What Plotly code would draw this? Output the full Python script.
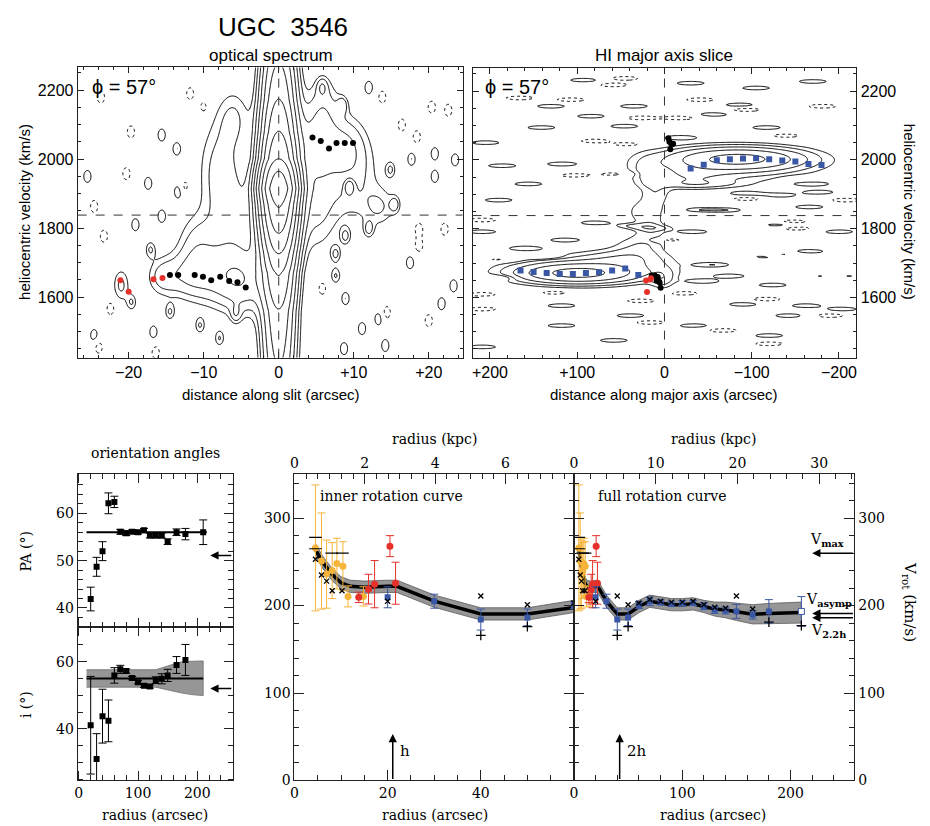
import numpy as np
import plotly.graph_objects as go

W, H = 930, 826
OFFX, OFFY = 8, 0  # page offset of the plot inside the html body
SANS = "Liberation Sans"
SERIF = "DejaVu Serif"

# ---------------------------------------------------------------- data
v_sys = 1838
phi_label = "ϕ = 57°"

# optical long-slit spectrum: continuum peak along velocity
opt_core_v = [1420, 1560, 1670, 1728, 1786, 1870, 1915, 1960, 2000, 2079, 2171, 2270]
opt_core_p = [7, 10, 17, 27, 43, 72, 100, 72, 43, 27, 17, 11]
opt_core_sigma = 1.4
# optical line-emission components
opt_em_x = [-4.5, -8, -12, -15.5, -21, -6, -8, -6, -11, 5, 9, 6, 10, 13.5, 5]
opt_em_v = [1640, 1660, 1665, 1660, 1635, 1800, 1980, 2120, 1760, 2050, 2040, 2160, 1950, 1860, 1870]
opt_em_a = [2.5, 2.2, 2.0, 1.8, 1.8, 1.8, 1.6, 1.5, 1.5, 2.5, 1.8, 1.6, 1.6, 1.4, 1.8]
opt_em_sx = [2.0, 2.5, 2.0, 1.5, 0.8, 2.5, 2.0, 1.5, 1.8, 2.0, 1.8, 1.5, 2.5, 1.5, 2.0]
opt_em_sv = [60, 60, 50, 40, 35, 120, 100, 60, 60, 70, 60, 60, 90, 40, 100]
# small positive / negative noise features in the optical spectrum
opt_pos_x = [-15.6, -13.6, -17.4, -13.4, -25.5, 8.5, 12, 17.7, 20.8, 20.8, 14.9, 23.5, 5.8, -19.1, -17.1,
             -15.6, -24.6, -16.7, -14.5, -10.5, -7.9, -5.7, 7.6, 8.9, 11.1, 14.2, 21.7, 23.3, 17.5, 8.9,
             15.5, 7.6, 12, 8.7, 13.3, -19.6]
opt_pos_v = [2070, 2030, 1930, 1906, 1950, 2157, 2208, 2000, 2016, 1950, 1970, 1998, 2210, 1810, 1739,
             1835, 1489, 1499, 1557, 1518, 1481, 1552, 1662, 1596, 1509, 1460, 1581, 1633, 1700, 1777,
             1869, 1725, 1797, 1451, 1537, 1585]
opt_neg_x = [-11.8, -10, -19.7, -20.3, 13.8, 16.4, 18.4, 20.4, 22.6, -23.7, -12.5, 9.4, -24.6, -23.3,
             -22.4, -24, -16.4, 5.8, 14.4, 20, 22.1, 18.7, 18.7]
opt_neg_v = [2190, 2151, 2079, 1958, 2180, 2099, 2065, 2151, 2142, 2180, 1921, 1921, 1863, 1777,
             1567, 1455, 1440, 1625, 1556, 1532, 1797, 1797, 1750]
# optical rotation-curve measurements
opt_black_x = [-14.5, -13.4, -11.2, -10.1, -9.0, -7.8, -6.6, -5.5, -4.4, 4.5, 5.6, 6.7, 7.7, 8.8, 9.9]
opt_black_v = [1664, 1664, 1664, 1659, 1649, 1659, 1647, 1643, 1628, 2063, 2053, 2031, 2047, 2047, 2047]
opt_red_x = [-21.1, -20.0, -16.7, -15.5]
opt_red_v = [1649, 1616, 1652, 1656]

# HI major-axis slice: emission components
hi_em_x = [-85, -70, 100, 85, -30, 20, 10, 25, 15, 30, 45, 2, -40]
hi_em_v = [2003, 1985, 1670, 1685, 1950, 1965, 1900, 1850, 1800, 1750, 1712, 1655, 1930]
hi_em_a = [11, 2.4, 11, 2.4, 2.0, 1.4, 1.4, 1.3, 1.3, 1.5, 2.0, 2.0, 1.5]
hi_em_sx = [45, 70, 42, 65, 28, 12, 12, 15, 12, 20, 30, 9, 35]
hi_em_sv = [20, 35, 18, 30, 22, 30, 30, 25, 30, 25, 18, 20, 8]
hi_pos_x = [92, 130, 141, 46, 35, 84, -18, -30, -56, -86, -105, -170, -196, -170, -166, -132, -177, -117,
            205, 186, 190, 156, 118, 12, -41, -71, -94, 209, 114, 80, 35, -33, -132, -200, -56, -117,
            -166, -204, -75, -124, -45, 118, 39, -90, -162, -204, -143, -33, 118, -120, 58, 209, 160]
hi_pos_v = [2232, 2156, 2094, 2098, 2156, 2127, 2065, 2223, 2132, 2160, 2209, 2228, 2045, 1930, 1863,
            1897, 1906, 2094, 2050, 1983, 1883, 1930, 1988, 1801, 1855, 1854, 1902, 1791, 1767, 1817,
            1808, 1791, 1811, 1791, 1695, 1719, 1734, 1662, 1662, 1636, 1647, 1576, 1547, 1580, 1576,
            1566, 1547, 1518, 1518, 1489, 1475, 1456, 1743]
hi_neg_x = [166, 107, 80, 42, 27, -18, 46, -94, -139, -181, -204, -162, -94, 58, 103, -208, 209, 58,
            -41, -147, 190, 141, 126, -3, -132, -151, -185, -22, 27, -117, -189, 16, -67, -120, 209,
            209, 194]
hi_neg_v = [2180, 2175, 2055, 2045, 2122, 2122, 2237, 2146, 2070, 2156, 2045, 1945, 1887, 1959, 1955,
            1883, 1825, 2218, 2175, 1820, 1710, 1719, 1614, 1767, 1724, 1801, 1662, 1612, 1590,
            1595, 1547, 1527, 1504, 1465, 1566, 1609, 1657]
hi_blue_x = [-30, -45, -60, -75, -90, -105, -120, -135, -150, -165, -180,
             165, 150, 135, 120, 105, 90, 75, 60, 45, 30]
hi_blue_v = [1975, 1986, 1999, 2002, 2004, 2005, 2002, 1998, 1995, 1988, 1985,
             1678, 1674, 1671, 1668, 1668, 1671, 1673, 1678, 1684, 1665]

# orientation angles
pa_r = [20, 30, 40, 50, 60, 70, 80, 90, 100, 110, 120, 130, 140, 150, 165, 180, 210]
pa_val = [41.9, 48.7, 52.0, 62.1, 62.4, 56.1, 55.8, 56.1, 56.0, 56.4, 55.3, 55.3, 55.3, 54.0, 56.0, 55.6, 56.0]
pa_err = [2.5, 2.0, 2.0, 2.2, 1.2, 0.5, 0.5, 0.4, 0.4, 0.4, 0.5, 0.5, 0.5, 0.6, 0.7, 1.2, 2.6]
pa_fit = 56.0
pa_photo = 51.1
incl_r = [20, 30, 40, 50, 60, 70, 80, 90, 100, 110, 120, 130, 140, 150, 165, 180]
incl_val = [41.1, 31.1, 43.8, 42.4, 55.9, 57.7, 57.2, 55.1, 53.9, 52.8, 52.6, 54.5, 54.9, 55.9, 59.0, 60.5]
incl_err = [14.5, 7.5, 8.0, 6.2, 2.3, 1.2, 0.6, 0.5, 0.5, 0.5, 0.5, 1.0, 1.5, 1.8, 2.5, 4.6]
incl_fit = 55.0
incl_photo = 52.0
fit_r = [13, 216]
incl_band_r = [13, 130, 150, 170, 190, 210]
incl_band_hi = [57.6, 57.6, 58.7, 59.8, 60.1, 60.2]
incl_band_lo = [52.4, 52.4, 51.7, 50.8, 50.2, 49.9]

# rotation curve
arcsec_per_kpc = 7.55
h_scale = 21.1
v_max, v_asymp, v_22h = 260, 191, 186
model_r = [4.5, 6, 8, 10, 12, 15, 20, 22, 30, 40, 50, 60, 70, 80, 90, 100, 110, 120, 130, 140, 150, 165, 180, 210]
model_v = [264, 250, 236, 226, 222, 221, 222, 222, 205, 190.5, 190.5, 199, 205, 203, 201, 201, 202, 199, 196,
           195, 193, 190, 191, 192]
model_e = [7, 7, 7, 7, 7, 7, 7, 7, 7, 7, 7, 7, 7, 7, 7, 7, 7, 7, 8, 9, 10, 11, 11.5, 12]
orange_r = [4.5, 5.8, 6.9, 8.1, 9.1, 10.4, 11.5, 14.8]
orange_v = [266, 251, 236, 240, 248, 245, 210.5, 210.5]
orange_e = [72, 55, 39, 32, 29, 28, 12, 11]
red_r = [13.8, 15.9, 17.2, 20.5, 21.7]
red_v = [209.4, 218.8, 224.5, 268, 225.6]
red_e = [6, 17, 27, 12, 24]
blue_r = [20, 30, 40, 50, 60, 70, 80, 90, 100, 110, 120, 130, 140, 150, 165, 180, 210]
blue_v = [209.5, 205, 184, 186.5, 200.7, 204.9, 203.7, 201.9, 202.7, 203, 199.3, 195.1, 194.4, 193.3, 189.6,
          193.3, 193.3]
blue_e = [12, 8, 12, 9.5, 4, 5, 3, 3, 3, 3, 4, 4, 4, 8, 5, 13.5, 17]
xmark_r = [4.5, 5.8, 6.9, 8.1, 10.2, 20, 40, 50, 60, 70, 80, 90, 100, 110, 120, 130, 140, 150, 165]
xmark_v = [253, 235, 228, 217, 217, 205, 211, 201, 203, 207, 205, 204, 204, 205, 201, 198, 197, 211, 196]
plus_r = [40, 50, 180, 210]
plus_v = [166, 176, 181, 177]
dash_r = [4.5, 4.5, 8.0, 10.3]
dash_v = [278, 265, 260, 260]

# ---------------------------------------------------------------- images
ox = np.arange(-27.5, 25.0, 0.2)
ov = np.arange(1416.0, 2276.0, 5.0)
OX, OV = np.meshgrid(ox, ov)
z_opt = np.interp(OV, opt_core_v, opt_core_p) * np.exp(-OX ** 2 / (2 * opt_core_sigma ** 2))
for x0, v0, a, sx, sv in zip(opt_em_x, opt_em_v, opt_em_a, opt_em_sx, opt_em_sv):
    z_opt += a * np.exp(-0.5 * ((OX - x0) / sx) ** 2 - 0.5 * ((OV - v0) / sv) ** 2)
for x0, v0 in zip(opt_pos_x, opt_pos_v):
    z_opt += 1.6 * np.exp(-0.5 * ((OX - x0) / 0.5) ** 2 - 0.5 * ((OV - v0) / 18) ** 2)
for x0, v0 in zip(opt_neg_x, opt_neg_v):
    z_opt -= 1.6 * np.exp(-0.5 * ((OX - x0) / 0.5) ** 2 - 0.5 * ((OV - v0) / 18) ** 2)

hx = np.arange(-224.0, 226.0, 2.0)
hv = np.arange(1416.0, 2276.0, 3.0)
HX, HV = np.meshgrid(hx, hv)
z_hi = np.zeros_like(HX)
for x0, v0, a, sx, sv in zip(hi_em_x, hi_em_v, hi_em_a, hi_em_sx, hi_em_sv):
    z_hi += a * np.exp(-0.5 * ((HX - x0) / sx) ** 2 - 0.5 * ((HV - v0) / sv) ** 2)
for x0, v0 in zip(hi_pos_x, hi_pos_v):
    z_hi += 1.6 * np.exp(-0.5 * ((HX - x0) / 16) ** 2 - 0.5 * ((HV - v0) / 5.5) ** 2)
for x0, v0 in zip(hi_neg_x, hi_neg_v):
    z_hi -= 1.6 * np.exp(-0.5 * ((HX - x0) / 16) ** 2 - 0.5 * ((HV - v0) / 5.5) ** 2)


def logz(z, base):
    return np.log(np.clip(z, 1e-3, None)) / np.log(base)


fig = go.Figure()


def contour(x, y, z, xa, ya, nlev, dash):
    fig.add_trace(go.Contour(x=x, y=y, z=z, xaxis=xa, yaxis=ya, showscale=False, hoverinfo="skip",
                             contours=dict(start=0, end=nlev, size=1, coloring="none"),
                             line=dict(color="black", width=1, dash=dash, smoothing=0.6)))


contour(ox, ov, logz(z_opt, 1.6), "x", "y", 9, "solid")
contour(ox, ov, logz(-z_opt, 1.6), "x", "y", 0.5, "dot")
contour(hx, hv, logz(z_hi, 1.8), "x2", "y2", 4, "solid")
contour(hx, hv, logz(-z_hi, 1.8), "x2", "y2", 0.5, "dot")

RED = "#E5312A"
ORANGE = "#F6B53A"
BLUE = "#3A57A6"


def pts(x, y, xa, ya, color, symbol="circle", size=6, err=None, lw=0, lc=None):
    kw = {}
    if err is not None:
        kw["error_y"] = dict(type="data", array=err, color=color, thickness=1, width=4)
    fig.add_trace(go.Scatter(x=x, y=y, xaxis=xa, yaxis=ya, mode="markers", hoverinfo="skip",
                             marker=dict(color=color, symbol=symbol, size=size,
                                         line=dict(width=lw, color=lc or color)), **kw))


pts(opt_black_x, opt_black_v, "x", "y", "black")
pts(opt_red_x, opt_red_v, "x", "y", RED)
pts(hi_blue_x, hi_blue_v, "x2", "y2", BLUE, "square", 6)
pts([-x for x in opt_black_x], opt_black_v, "x2", "y2", "black")
pts([-x for x in opt_red_x], opt_red_v, "x2", "y2", RED)

# orientation angles
fig.add_trace(go.Scatter(x=fit_r, y=[pa_fit, pa_fit], xaxis="x3", yaxis="y3", mode="lines",
                         line=dict(color="black", width=2), hoverinfo="skip"))
pts(pa_r, pa_val, "x3", "y3", "black", "square", 6, pa_err)
fig.add_trace(go.Scatter(x=incl_band_r + incl_band_r[::-1], y=incl_band_hi + incl_band_lo[::-1],
                         xaxis="x4", yaxis="y4", mode="lines", fill="toself", fillcolor="rgb(150,150,150)",
                         line=dict(color="rgb(110,110,110)", width=0.8), hoverinfo="skip"))
fig.add_trace(go.Scatter(x=fit_r[:1] + [210], y=[incl_fit, incl_fit], xaxis="x4", yaxis="y4", mode="lines",
                         line=dict(color="black", width=2), hoverinfo="skip"))
pts(incl_r, incl_val, "x4", "y4", "black", "square", 6, incl_err)

# rotation curves
mlo = [v - e for v, e in zip(model_v, model_e)]
mhi = [v + e for v, e in zip(model_v, model_e)]
for xa, ya in (("x5", "y5"), ("x6", "y6")):
    fig.add_trace(go.Scatter(x=model_r + model_r[::-1], y=mhi + mlo[::-1], xaxis=xa, yaxis=ya, mode="lines",
                             fill="toself", fillcolor="rgb(150,150,150)",
                             line=dict(color="rgb(90,90,90)", width=0.8), hoverinfo="skip"))
    fig.add_trace(go.Scatter(x=model_r, y=model_v, xaxis=xa, yaxis=ya, mode="lines",
                             line=dict(color="black", width=3.5), hoverinfo="skip"))
    pts(orange_r, orange_v, xa, ya, ORANGE, "circle", 7, orange_e)
    pts(red_r, red_v, xa, ya, RED, "circle", 7, red_e)
    pts(blue_r[:-1], blue_v[:-1], xa, ya, BLUE, "square", 6, blue_e[:-1])
    fig.add_trace(go.Scatter(x=blue_r[-1:], y=blue_v[-1:], xaxis=xa, yaxis=ya, mode="markers",
                             marker=dict(size=6, color="white", symbol="square", line=dict(width=1, color=BLUE)),
                             hoverinfo="skip",
                             error_y=dict(type="data", array=blue_e[-1:], color=BLUE, thickness=1, width=4)))
    pts(xmark_r, xmark_v, xa, ya, "black", "x-thin", 5, None, 1.3, "black")
    pts(plus_r, plus_v, xa, ya, "black", "cross-thin", 7, None, 1.3, "black")
    pts(dash_r, dash_v, xa, ya, "black", "line-ew", 9, None, 1.2, "black")

# invisible traces anchoring the kpc axes
fig.add_trace(go.Scatter(x=[0], y=[0], xaxis="x7", yaxis="y5", mode="markers", marker=dict(opacity=0),
                         hoverinfo="skip"))
fig.add_trace(go.Scatter(x=[0], y=[0], xaxis="x8", yaxis="y6", mode="markers", marker=dict(opacity=0),
                         hoverinfo="skip"))

# ---------------------------------------------------------------- layout
LC = "#222"


def PX(px):
    return (px - OFFX) / W


def PY(py):
    return 1 - (py - OFFY) / H


def dx(a, b):
    return [PX(a), PX(b)]


def dy(top, bottom):
    return [PY(bottom), PY(top)]


def ax(fam, size, tl, mdt, mtl, **kw):
    d = dict(showline=True, linecolor=LC, linewidth=1, mirror="ticks", ticks="inside", ticklen=tl,
             tickcolor=LC, tickwidth=1, showgrid=False, zeroline=False,
             tickfont=dict(family=fam, size=size, color="black"),
             minor=dict(dtick=mdt, ticks="inside", ticklen=mtl, tickcolor=LC, tickwidth=1, showgrid=False))
    d.update(kw)
    return d


MINUS = "\u2212"
layout = dict(
    width=W, height=H, margin=dict(l=0, r=0, t=0, b=0), showlegend=False,
    paper_bgcolor="white", plot_bgcolor="rgba(0,0,0,0)",
    xaxis=ax(SANS, 16, 6, 2, 3, domain=dx(74, 461), anchor="y", range=[-26.8, 24.5],
             tickvals=[-20, -10, 0, 10, 20], ticktext=[MINUS + "20", MINUS + "10", "0", "+10", "+20"]),
    yaxis=ax(SANS, 16, 6, 50, 3, domain=dy(60, 353), anchor="x", range=[1425, 2266],
             tickvals=[1600, 1800, 2000, 2200]),
    xaxis2=ax(SANS, 16, 6, 20, 3, domain=dx(471, 857), anchor="y2", range=[220, -220],
              tickvals=[200, 100, 0, -100, -200], ticktext=["+200", "+100", "0", MINUS + "100", MINUS + "200"]),
    yaxis2=ax(SANS, 16, 6, 50, 3, domain=dy(61, 353), anchor="x2", range=[1425, 2266], side="right",
              tickvals=[1600, 1800, 2000, 2200]),
    xaxis3=ax(SERIF, 14, 9, 20, 5, domain=dx(74, 230), anchor="y3", range=[-2, 260], dtick=100,
              showticklabels=False),
    yaxis3=ax(SERIF, 14, 9, 2, 5, domain=dy(471, 625), anchor="x3", range=[36, 68.2], dtick=10),
    xaxis4=ax(SERIF, 14, 9, 20, 5, domain=dx(74, 230), anchor="y4", range=[-2, 260], dtick=100),
    yaxis4=ax(SERIF, 14, 9, 5, 5, domain=dy(625, 780), anchor="x4", range=[24.7, 70.3], dtick=20, tick0=0),
    xaxis5=ax(SERIF, 14, 10, 5, 5, domain=dx(292, 573), anchor="y5", range=[0, 60], tickvals=[0, 20, 40],
              mirror=True),
    yaxis5=ax(SERIF, 14, 10, 20, 5, domain=dy(471, 780), anchor="x5", range=[0, 350], dtick=100),
    xaxis6=ax(SERIF, 14, 10, 20, 5, domain=dx(573, 855), anchor="y6", range=[0, 259], dtick=100, mirror=True),
    yaxis6=ax(SERIF, 14, 10, 20, 5, domain=dy(471, 780), anchor="x6", range=[0, 350], dtick=100, side="right"),
    xaxis7=ax(SERIF, 14, 10, 1 / 3, 5, overlaying="x5", anchor="y5", side="top",
              range=[0, 60 / arcsec_per_kpc], tickvals=[0, 2, 4, 6], mirror=False),
    xaxis8=ax(SERIF, 14, 10, 2, 5, overlaying="x6", anchor="y6", side="top",
              range=[0, 259 / arcsec_per_kpc], dtick=10, mirror=False),
)
fig.update_layout(**layout)

ann = []


def A(text, px, py, size, fam, angle=0, xanchor="center", yanchor="middle"):
    ann.append(dict(text=text, x=PX(px), y=PY(py), xref="paper", yref="paper", showarrow=False,
                    font=dict(size=size, family=fam, color="black"), textangle=angle,
                    xanchor=xanchor, yanchor=yanchor))


def D(text, x, y, xr, yr, size, xanchor="left"):
    ann.append(dict(text=text, x=x, y=y, xref=xr, yref=yr, showarrow=False, xanchor=xanchor,
                    font=dict(size=size, family=SERIF, color="black")))


def arrow(xr, yr, xh, yh, xt, yt):
    ann.append(dict(text="", x=xh, y=yh, ax=xt, ay=yt, xref=xr, yref=yr, axref=xr, ayref=yr, showarrow=True,
                    arrowhead=2, arrowsize=1.1, arrowwidth=1.5, arrowcolor="black"))


A("UGC  3546", 280, 19, 26, SANS)
A("optical spectrum", 268, 48, 17, SANS)
A("HI major axis slice", 664, 48, 17, SANS)
A(phi_label, 86, 80, 20, SANS, xanchor="left")
A(phi_label, 482, 80, 20, SANS, xanchor="left")
A("heliocentric velocity (km/s)", 20, 206, 15, SANS, angle=-90)
A("heliocentric velocity (km/s)", 911, 206, 15, SANS, angle=90)
A("distance along slit (arcsec)", 268, 390, 15, SANS)
A("distance along major axis (arcsec)", 664, 390, 15, SANS)
A("orientation angles", 152, 449, 14, SERIF)
A("PA (°)", 22, 548, 14, SERIF, angle=-90)
A("i (°)", 22, 703, 14, SERIF, angle=-90)
for cx in (152, 433, 713):
    A("radius (arcsec)", cx, 815, 14, SERIF)
for cx in (433, 713):
    A("radius (kpc)", cx, 435, 14, SERIF)
A("inner rotation curve", 316, 493, 14, SERIF, xanchor="left")
A("full rotation curve", 595, 493, 14, SERIF, xanchor="left")
A("V<sub>rot</sub> (km/s)", 911, 600, 15, SERIF, angle=90)

arrow("x3", "y3", 222, pa_photo, 260, pa_photo)
arrow("x4", "y4", 222, incl_photo, 260, incl_photo)
arrow("x5", "y5", h_scale, 53, h_scale, 0)
arrow("x6", "y6", 2 * h_scale, 53, 2 * h_scale, 0)
D("h", h_scale + 1.2, 34, "x5", "y5", 15)
D("2h", 2 * h_scale + 5, 34, "x6", "y6", 15)
for v in (v_max, v_asymp, v_22h):
    arrow("x6", "y6", 220, v, 259, v)
D("V<sub><b>max</b></sub>", 216, v_max + 15, "x6", "y6", 14)
D("V<sub><b>asymp</b></sub>", 212, v_asymp + 15, "x6", "y6", 14)
D("V<sub><b>2.2h</b></sub>", 217, v_22h - 15, "x6", "y6", 14)

shapes = []
for xr, yr in (("x", "y"), ("x2", "y2")):
    shapes.append(dict(type="line", xref=xr + " domain", x0=0, x1=1, yref=yr, y0=v_sys, y1=v_sys,
                       line=dict(color="#333", width=1, dash="dash")))
    shapes.append(dict(type="line", xref=xr, x0=0, x1=0, yref=yr + " domain", y0=0, y1=1,
                       line=dict(color="#333", width=1, dash="dash")))
fig.update_layout(annotations=ann, shapes=shapes)

fig.write_html("out.html")
